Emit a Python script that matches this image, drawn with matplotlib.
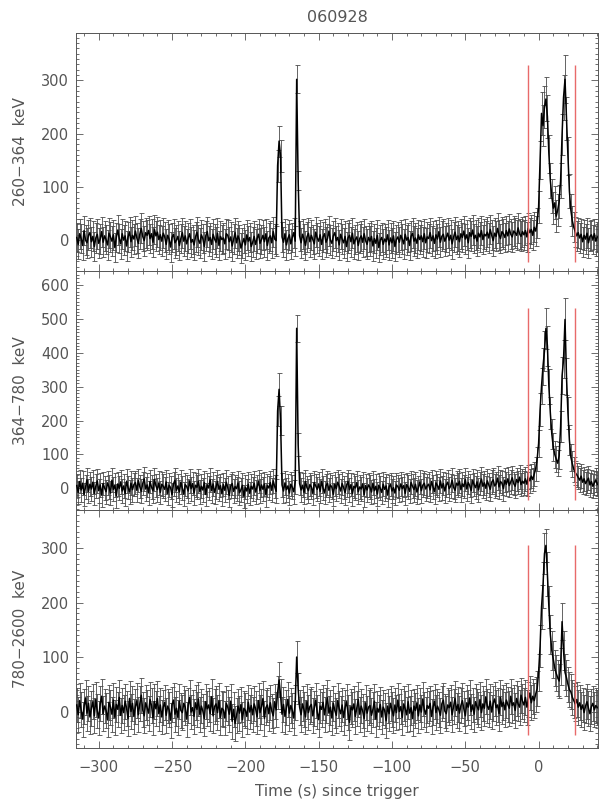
import numpy as np
import matplotlib
matplotlib.use("Agg")
import matplotlib.pyplot as plt
from matplotlib.ticker import MultipleLocator

# ---------------- data ----------------
title_text = "060928"
t_start = -315          # time of first bin (s since trigger)
bin_width = 1.0         # s

band_labels = ["260\u2212364  keV", "364\u2212780  keV", "780\u22122600  keV"]

rate_260_364 = [
    5, -8, 12, 3, -10, 18, 0, -5, 9, 14, -3, 7, -12, 4, 11, -6, 2, 16, -4, 8,
    1, -9, 13, 6, -2, 10, -14, 5, 19, 3, -7, 12, 0, 8, -11, 6, 15, -3, 9, 2,
    17, 4, -6, 11, 22, 7, -1, 14, 9, 18, 3, 12, -4, 20, 8, 15, 1, 10, -2, 13,
    6, -8, 9, 2, -13, 5, 11, -5, 0, 7, -10, 3, 14, -2, 8, -7, 4, 12, -4, 1,
    -9, 6, 15, 0, -6, 10, 3, -12, 8, 16, -1, 5, -8, 11, 2, -4, 13, -10, 7, 1,
    4, -7, 12, 9, -3, 6, -11, 2, 14, -5, 8, 0, -15, -6, 3, -9, 10, -2, 5, -12,
    -4, 7, -8, 3, 11, -6, 1, 9, -3, 12, -10, 4, 8, -5, 16, 2, -1,
    140, 186, 158,
    6, -4, 12, -9, 3, 10, -7, 5, 14, -2,
    302, 112,
    8, -5, 11, 2, -10, 6, 13, -3,
    9, 1, -7, 15, 4, -2, 10, -8, 6, 12, -4, 3, 17, 0, -6, 8, 14, -1, 5, -9,
    11, 2, -5, 7, -12, 4, 9, -3, 13, -7, 1, 6, -10, 3, 8, -4, 12, -1, -8, 5,
    -2, 7, -11, 3, -6, 9, -14, 0, 5, -8, 2, -3, 10, -9, 4, -5, 8, -12, 1, 6,
    -4, 9, 2, -7, 11, 0, 5, -10, 7, 13, -2, 4, -6, 10, 1, 8, -3, 12, -5, 6,
    3, 14, -1, 8, -6, 10, 2, 16, -4, 7, 11, -2, 5, 13, 0, 9, -7, 6, 15, 1,
    8, -3, 12, 5, 17, 2, 10, -5, 14, 7, 19, 3, 9, -2, 13, 6, 18, 1, 11, 8,
    15, 4, 20, 9, -1, 13, 7, 22, 10, 3, 16, 12, 5, 18, 8, 21, 11, 6, 17, 14, 9, 23, 12, 7, 16,
    10, 18, 6, 22, 14, 20, 9, 24, 17, 32,
    62, 150, 238, 215, 250, 265, 232, 162, 112, 82,
    60, 70, 45, 56, 72, 112, 198, 268, 302, 228,
    158, 92, 56, 36, 24, 16, 8, 14, 4, 11,
    -3, 9, 2, 13, -5, 7, 10, 1, 12, -2, 6,
]

rate_364_780 = [
    8, -12, 20, -5, 15, -18, 3, 25, -9, 12, -2, 18, -15, 6, 22, -7, 10, -20, 14, 1,
    -10, 16, 4, -14, 24, -3, 9, -22, 13, 0, 19, -8, 7, -16, 21, 2, -11, 15, -4, 11,
    17, -6, 23, 5, -9, 14, 28, -2, 10, -13, 20, 3, -7, 26, 8, -4, 16, -12, 12, 6,
    -3, 19, -15, 9, 2, -19, 13, 24, -6, 7, -11, 18, 0, -17, 11, 5, -8, 22, -1, 14,
    -14, 9, 3, 21, -10, 6, -5, 17, -18, 10, 1, 25, -7, 13, -12, 4, 20, -3, 8, -16,
    11, -6, 18, 2, -21, 7, 14, -9, 5, -1, 16, -13, -4, 9, -24, 3, -8, 12, -15, 6,
    -2, 15, -11, 4, 20, -7, 10, -3, 13, -19, 8, 1, 17, -6, 22, 5, -9,
    228, 292, 200,
    10, -8, 16, -4, 7, -14, 12, 3, -10, 19,
    472, 130,
    14, -5, 9, -12, 20, 2, -7, 11,
    4, -15, 17, 7, -3, 13, -9, 21, 0, -12, 8, 15, -6, 10, 3, -18, 12, -1, 18, 6,
    -8, 14, 2, -13, 9, 20, -4, 11, -16, 6, 1, 17, -10, 4, -2, 13, -19, 8, -5, 10,
    3, -11, 15, -7, 6, -17, 9, 0, -12, 12, -3, 7, -20, 4, 11, -8, 2, -14, 10, 5,
    -6, 13, -1, 8, -15, 11, 3, -9, 17, 6, -4, 12, -11, 2, 19, -7, 9, 15, -2, 7,
    12, -5, 20, 4, -10, 16, 8, -3, 22, 1, 14, -8, 10, 18, -1, 6, 24, 3, -6, 15,
    9, 21, -4, 13, 5, 26, -2, 17, 8, -7, 23, 11, 2, 19, -5, 14, 27, 6, 16, 0,
    22, 10, -3, 18, 25, 7, 13, 30, 4, 20, 15, -1, 24, 12, 28, 8, 19, 31, 14, 6, 26, 17, 33, 11, 21,
    15, 28, 12, 34, 22, 36, 26, 42, 58, 86,
    132, 232, 302, 360, 405, 472, 420, 300, 222, 160,
    122, 100, 86, 74, 96, 182, 332, 380, 498, 330,
    222, 142, 92, 72, 56, 46, 40, 32, 24, 36,
    18, 28, 14, 22, 30, 10, 20, 6, 16, 25, 12,
]

rate_780_2600 = [
    12, -6, 20, 3, -14, 9, 25, -3, 15, -10, 6, 18, -8, 22, 1, -12, 14, 28, -4, 10,
    2, -15, 17, 8, -5, 21, -11, 13, 4, 26, -7, 11, -2, 19, 6, -13, 24, 0, 15, -9,
    9, 20, -6, 14, 30, 3, -8, 16, 7, -3, 22, 11, -12, 18, 5, 24, -4, 12, -10, 8,
    17, -7, 10, 3, -16, 13, 21, -5, 6, -11, 19, 2, -2, 15, 8, -14, 11, 26, -1, 7,
    -9, 16, 4, 23, -6, 10, 1, -13, 18, 5, 12, -4, 27, -8, 9, 14, -2, 20, -11, 6,
    3, -12, 15, 8, -5, 19, -18, 4, -22, -7, 10, -3, 13, -15, 6, 2, -9, 17, -1, 11,
    -6, 14, 5, -10, 20, -2, 9, 24, -13, 7, 12, -4, 16, 1, -8, 18, 3,
    35, 58, 30,
    -5, 13, -9, 7, 22, -3, 11, 2, -12, 16,
    100, 42,
    8, -6, 14, 3, -10, 19, -2, 9,
    13, -8, 6, 21, -1, -15, 10, 4, 17, -6, 11, 25, -3, 8, -12, 15, 2, -7, 20, 5,
    -4, 12, -11, 7, 18, -2, -20, 9, 3, 14, -9, 6, 22, -5, 10, 1, -13, 16, -3, 8,
    11, -7, 4, 19, -14, 6, -1, 13, -10, 8, 2, -17, 10, -4, 15, 3, -8, 12, -2, 21,
    0, 9, -11, 14, 5, -6, 18, -3, 7, -13, 10, 2, 16, -8, 12, -1, 23, 4, -5, 11,
    6, 15, -9, 8, 19, -2, 10, 3, -7, 14, 21, 1, -4, 12, 7, 17, -6, 9, 24, 2,
    13, -3, 11, 20, 5, -8, 16, 8, 25, 0, 12, -5, 18, 9, 3, 22, -2, 14, 6, 27,
    10, 4, 19, -1, 15, 23, 7, 12, -4, 26, 9, 17, 3, 21, 13, 6, 28, 11, 16, 2, 24, 14, 8, 30, 19,
    12, 26, 8, 22, 34, 16, 28, 20, 32, 42,
    72, 120, 192, 232, 290, 305, 252, 192, 142, 112,
    96, 80, 70, 62, 56, 82, 165, 112, 72, 62,
    50, 40, 36, 26, 20, 14, 22, 8, 16, 4,
    12, -2, 10, 18, 6, -4, 9, 15, 3, 11, 7,
]

# 1-sigma errors: typical background error per band, plus bins 0..25 s of the burst
base_err = [28, 35, 32]
burst_err_260_364 = [30, 36, 40, 38, 40, 42, 40, 36, 33, 32, 30, 31, 30, 30, 31, 33, 38, 42, 45, 40, 36, 32, 30, 29, 28, 28]
burst_err_364_780 = [40, 48, 52, 55, 58, 60, 58, 52, 48, 44, 42, 40, 39, 38, 40, 46, 54, 56, 62, 55, 48, 44, 40, 38, 37, 36]
burst_err_780_2600 = [34, 38, 40, 42, 38, 30, 40, 38, 36, 35, 34, 33, 33, 33, 32, 34, 34, 35, 33, 33, 32, 32, 32, 32, 32, 32]
spike_err_260_364 = {-178: 30, -177: 29, -176: 30, -165: 26, -164: 18}
spike_err_364_780 = {-178: 44, -177: 48, -176: 44, -165: 40, -164: 34}
spike_err_780_2600 = {-178: 30, -177: 32, -176: 30, -165: 30, -164: 28}

# red interval markers (s) and their vertical extent per panel
red_times = [-7.0, 24.5]
red_span = [(-42, 328), (-35, 532), (-43, 305)]

y_limits = [(-58, 389), (-64, 641), (-67, 370)]
y_major = [[0, 100, 200, 300], [0, 100, 200, 300, 400, 500, 600], [0, 100, 200, 300]]
x_limits = (-315.5, 40.5)
x_major = [-300, -250, -200, -150, -100, -50, 0]

# ---------------- plotting ----------------
rates = [rate_260_364, rate_364_780, rate_780_2600]
burst_errs = [burst_err_260_364, burst_err_364_780, burst_err_780_2600]
spike_errs = [spike_err_260_364, spike_err_364_780, spike_err_780_2600]

txt_col = "#555555"
plt.rcParams["font.family"] = ["DejaVu Sans"]

W, H = 600, 808
fig = plt.figure(figsize=(W / 100, H / 100), dpi=100)
bounds = [33, 271, 510, 748]
left = 76 / W
width = 522 / W

axes = []
for i in range(3):
    top_px, bot_px = bounds[i], bounds[i + 1]
    ax = fig.add_axes([left, 1 - bot_px / H, width, (bot_px - top_px) / H])
    axes.append(ax)

    vals = np.asarray(rates[i], dtype=float)
    n = len(vals)
    t = t_start + bin_width * np.arange(n)
    err = np.full(n, float(base_err[i]))
    i0 = int(round((0 - t_start) / bin_width))
    be = burst_errs[i]
    err[i0:i0 + len(be)] = be
    for tt, e in spike_errs[i].items():
        err[int(round((tt - t_start) / bin_width))] = e

    ax.errorbar(t, vals, yerr=err, fmt="none", ecolor="#4a4a4a",
                elinewidth=0.6, capsize=1.8, capthick=0.6, zorder=2)
    ax.plot(t, vals, color="#000000", lw=1.1, zorder=3)

    for rt in red_times:
        ax.plot([rt, rt], red_span[i], color="#e86a6a", lw=1.0, zorder=4,
                solid_capstyle="butt")

    ax.set_xlim(*x_limits)
    ax.set_ylim(*y_limits[i])
    ax.set_yticks(y_major[i])
    ax.set_xticks(x_major)
    ax.xaxis.set_minor_locator(MultipleLocator(10))
    ax.yaxis.set_minor_locator(MultipleLocator(10))
    ax.tick_params(which="both", direction="in", top=True, right=True,
                   colors=txt_col, labelsize=10.5, width=0.6)
    ax.tick_params(which="major", length=5)
    ax.tick_params(which="minor", length=2.5)
    ax.tick_params(axis="y", pad=5)
    ax.tick_params(axis="x", pad=9)
    for s in ax.spines.values():
        s.set_color("#555555")
        s.set_linewidth(0.7)
    ax.set_ylabel(band_labels[i], fontsize=11, color=txt_col)
    ax.yaxis.set_label_coords(-0.092, 0.5)
    if i < 2:
        ax.tick_params(axis="x", labelbottom=False)

axes[0].set_title(title_text, fontsize=11.5, color=txt_col, pad=8)
axes[2].set_xlabel("Time (s) since trigger", fontsize=11, color=txt_col, labelpad=6)

fig.savefig("out.png", dpi=100)
